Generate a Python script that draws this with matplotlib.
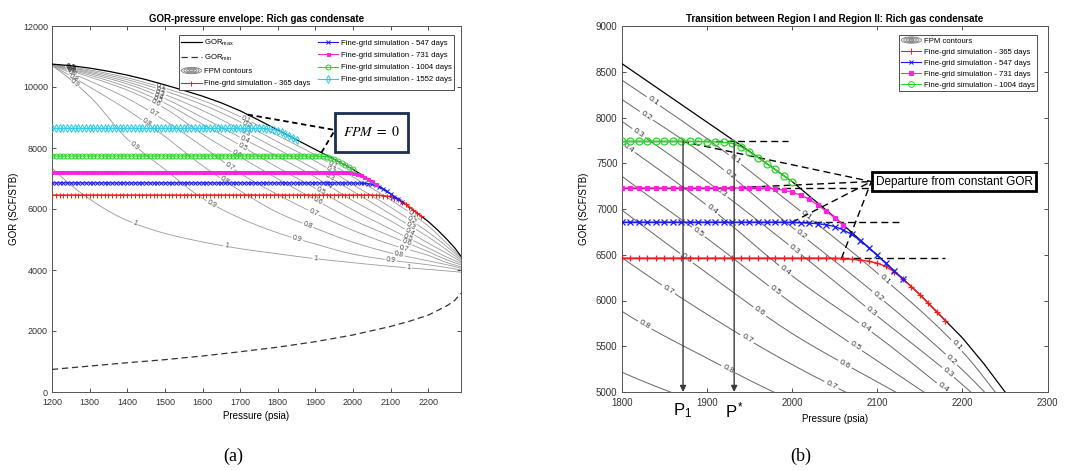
import numpy as np
import matplotlib
matplotlib.use("Agg")
import matplotlib.pyplot as plt
from matplotlib.legend_handler import HandlerBase
from matplotlib.patches import Ellipse, Rectangle, Patch
from matplotlib.lines import Line2D

plt.rcParams['font.family'] = ['Liberation Sans', 'DejaVu Sans']
plt.rcParams['mathtext.fontset'] = 'stix'

# ---------------- GOR envelope (psia, SCF/STB) ----------------
P_ENV = [1200, 1250, 1300, 1350, 1400, 1450, 1500, 1550, 1600, 1650, 1700, 1750,
         1800, 1850, 1900, 1950, 2000, 2050, 2100, 2150, 2200, 2225, 2250, 2270, 2287]
GOR_MAX = [10750, 10700, 10620, 10515, 10390, 10240, 10070, 9890, 9700, 9480, 9220, 8910,
           8590, 8270, 7950, 7630, 7300, 6910, 6495, 6065, 5590, 5310, 5000, 4730, 4450]
P_MIN = [1200, 1300, 1400, 1500, 1600, 1700, 1800, 1900, 2000, 2100, 2150, 2200, 2250, 2270, 2287]
GOR_MIN = [740, 850, 960, 1060, 1180, 1320, 1470, 1650, 1870, 2150, 2320, 2520, 2830, 3000, 3240]

# ---------------- FPM contour table: GOR of each FPM level at P_FPM ----------------
P_FPM = [1200, 1300, 1400, 1500, 1600, 1700, 1800, 1900, 2000, 2100, 2200, 2250, 2287]
FPM_LEVELS = [0.1, 0.2, 0.3, 0.4, 0.5, 0.6, 0.7, 0.8, 0.9, 1.0]
GOR_FPM_00 = [10750, 10620, 10390, 10070, 9700, 9220, 8590, 7950, 7300, 6495, 5590, 5000, 4450]
GOR_FPM_01 = [10745, 10560, 10300, 9960, 9560, 9030, 8410, 7770, 7050, 6300, 5440, 4860, 4420]
GOR_FPM_02 = [10740, 10520, 10240, 9870, 9420, 8860, 8200, 7570, 6800, 6055, 5240, 4760, 4370]
GOR_FPM_03 = [10735, 10480, 10170, 9750, 9230, 8610, 7960, 7300, 6580, 5830, 5080, 4650, 4320]
GOR_FPM_04 = [10730, 10440, 10100, 9620, 9000, 8350, 7720, 7040, 6270, 5610, 4880, 4540, 4270]
GOR_FPM_05 = [10725, 10390, 10000, 9470, 8780, 8090, 7360, 6680, 5970, 5340, 4720, 4420, 4220]
GOR_FPM_06 = [10720, 10330, 9900, 9300, 8450, 7710, 6990, 6300, 5640, 5110, 4600, 4330, 4170]
GOR_FPM_07 = [10715, 10200, 9630, 8900, 8050, 7170, 6470, 5850, 5300, 4840, 4480, 4240, 4110]
GOR_FPM_08 = [10710, 10000, 9250, 8380, 7420, 6600, 5884, 5370, 4910, 4560, 4300, 4170, 4060]
GOR_FPM_09 = [10705, 9700, 8300, 7300, 6350, 5700, 5218, 4850, 4520, 4320, 4170, 4080, 4000]
GOR_FPM_10 = [7333, 6320, 5620, 5200, 4920, 4700, 4530, 4370, 4240, 4120, 4020, 3970, 3930]

# ---------------- Fine-grid simulation results ----------------
P_START = 1200
P_STEP = 10
DAYS = [365, 547, 731, 1004, 1552]
PLATEAU_GOR = [6462, 6855, 7229, 7738, 8645]
TAIL_START_P = [2050, 2000, 1970, 1900, 1760]
TAIL_365 = [6460, 6457, 6451, 6442, 6428, 6408, 6372, 6312, 6235, 6150, 6062, 5968, 5873, 5778]
TAIL_547 = [6853, 6850, 6846, 6839, 6828, 6808, 6772, 6722, 6655, 6576, 6492, 6406, 6320, 6234]
TAIL_731 = [7226, 7219, 7206, 7185, 7152, 7105, 7045, 6975, 6905, 6825]
TAIL_1004 = [7736, 7733, 7727, 7716, 7680, 7625, 7562, 7497, 7432, 7366, 7300]
TAIL_1552 = [8640, 8632, 8618, 8597, 8568, 8515, 8455, 8395, 8332, 8268]

# Constant-GOR departure markers (365, 547, 731, 1004 days)
DEPART_P = [2058, 2000, 1925, 1871]
FLAT_END_P = [2180, 2127, 2090, 1995]
P_1 = 1872
P_STAR = 1932

SERIES_STYLE = {
    365: dict(color='#ff1a1a', marker='+', ms=1.0),
    547: dict(color='#1a1aff', marker='x', ms=0.85),
    731: dict(color='#ff22dd', marker='s', ms=0.6),
    1004: dict(color='#2ad42a', marker='o', mfc='none', ms=1.0),
    1552: dict(color='#22ccee', marker='d', mfc='none', ms=1.0),
}


def series(k, tail):
    p_flat = np.arange(P_START, TAIL_START_P[k], P_STEP)
    p_tail = TAIL_START_P[k] + P_STEP * np.arange(len(tail))
    p = np.concatenate([p_flat, p_tail])
    g = np.concatenate([np.full(len(p_flat), PLATEAU_GOR[k], dtype=float), tail])
    return p, g


SIM = {d: series(k, t) for k, (d, t) in enumerate(
    zip(DAYS, [TAIL_365, TAIL_547, TAIL_731, TAIL_1004, TAIL_1552]))}


def pchip(xk, yk, x):
    xk = np.asarray(xk, float)
    yk = np.asarray(yk, float)
    x = np.asarray(x, float)
    h = np.diff(xk)
    d = np.diff(yk) / h
    m = np.zeros_like(yk)
    for i in range(1, len(xk) - 1):
        if d[i - 1] * d[i] > 0:
            w1 = 2 * h[i] + h[i - 1]
            w2 = h[i] + 2 * h[i - 1]
            m[i] = (w1 + w2) / (w1 / d[i - 1] + w2 / d[i])

    def end_slope(h0, h1, d0, d1):
        s = ((2 * h0 + h1) * d0 - h0 * d1) / (h0 + h1)
        if np.sign(s) != np.sign(d0):
            s = 0.0
        elif np.sign(d0) != np.sign(d1) and abs(s) > abs(3 * d0):
            s = 3 * d0
        return s

    m[0] = end_slope(h[0], h[1], d[0], d[1])
    m[-1] = end_slope(h[-1], h[-2], d[-1], d[-2])
    idx = np.clip(np.searchsorted(xk, x) - 1, 0, len(xk) - 2)
    t = (x - xk[idx]) / h[idx]
    h00 = 2 * t**3 - 3 * t**2 + 1
    h10 = t**3 - 2 * t**2 + t
    h01 = -2 * t**3 + 3 * t**2
    h11 = t**3 - t**2
    return h00 * yk[idx] + h10 * h[idx] * m[idx] + h01 * yk[idx + 1] + h11 * h[idx] * m[idx + 1]


FPM_ROWS = [GOR_FPM_00, GOR_FPM_01, GOR_FPM_02, GOR_FPM_03, GOR_FPM_04, GOR_FPM_05,
            GOR_FPM_06, GOR_FPM_07, GOR_FPM_08, GOR_FPM_09, GOR_FPM_10]
ROW_LEVELS = [0.0] + FPM_LEVELS


def level_gor(lev, p):
    return float(pchip(P_FPM, FPM_ROWS[ROW_LEVELS.index(lev)], p))


def fpm_field(p_grid, g_grid):
    curves = np.array([pchip(P_FPM, r, p_grid) for r in FPM_ROWS])
    for k in range(1, len(curves)):
        curves[k] = np.minimum(curves[k], curves[k - 1] - 0.5)
    lev = np.array([-1.0] + ROW_LEVELS + [2.0])
    Z = np.empty((len(g_grid), len(p_grid)))
    for j in range(len(p_grid)):
        col = np.concatenate([[curves[0, j] + 4000.0], curves[:, j], [curves[-1, j] - 4000.0]])
        Z[:, j] = np.interp(g_grid, col[::-1], lev[::-1])
    return Z


def draw_fpm(ax, p_grid, g_grid, label_p, color, lw, fs, tcolor, spacing):
    Z = fpm_field(p_grid, g_grid)
    for lev in FPM_LEVELS:
        cs = ax.contour(p_grid, g_grid, Z, levels=[lev], colors=color, linewidths=lw, zorder=1)
        plist = label_p.get(lev, [])
        if plist:
            cs.clabel(manual=[(p, level_gor(lev, p)) for p in plist], inline=True,
                      inline_spacing=spacing, fmt='%g', fontsize=fs, colors=[tcolor])


class FpmIconHandler(HandlerBase):
    def create_artists(self, legend, orig_handle, xdescent, ydescent, width, height,
                       fontsize, trans):
        cx = -xdescent + width / 2.0
        cy = -ydescent + height / 2.0
        arts = []
        for s in (1.0, 0.75, 0.5, 0.25):
            arts.append(Ellipse((cx, cy), width * s, height * 1.15 * s, fill=False,
                                edgecolor='#7a7a7a', linewidth=0.6, transform=trans))
        return arts


def style_axes(ax, fs):
    ax.tick_params(direction='in', top=True, right=True, length=3, width=0.6,
                   labelsize=fs, colors='#333333')
    ax.tick_params(axis='x', pad=4)
    ax.tick_params(axis='y', pad=3)
    for s in ax.spines.values():
        s.set_color('#555555')
        s.set_linewidth(0.7)


def plot_series(ax, d, ms, mew, lw):
    p, g = SIM[d]
    st = SERIES_STYLE[d]
    ax.plot(p, g, color=st['color'], lw=lw, marker=st['marker'], ms=ms * st['ms'], mew=mew,
            mfc=st.get('mfc', st['color']), zorder=4)


def sim_handle(d, ms):
    st = SERIES_STYLE[d]
    return Line2D([], [], color=st['color'], lw=0.8, marker=st['marker'], ms=ms * st['ms'],
                  mew=0.7, mfc=st.get('mfc', st['color']))


fig = plt.figure(figsize=(10.65, 4.7), dpi=100)
W, H = 1065.0, 470.0
ax1 = fig.add_axes([52 / W, 78 / H, 409 / W, 366 / H])
ax2 = fig.add_axes([621.7 / W, 78 / H, 426 / W, 366 / H])

# ================= (a) GOR-pressure envelope =================
ax1.set_xlim(1200, 2287)
ax1.set_ylim(0, 12000)
ax1.set_xticks(np.arange(1200, 2201, 100))
ax1.set_yticks(np.arange(0, 12001, 2000))
style_axes(ax1, 6.5)

left_label_p = {
    0.1: [1250, 1490, 1716, 1946, 2158],
    0.2: [1250, 1490, 1718, 1942, 2156],
    0.3: [1251, 1488, 1716, 1937, 2154],
    0.4: [1252, 1485, 1712, 1933, 2150],
    0.5: [1253, 1482, 1707, 1915, 2146],
    0.6: [1254, 1476, 1690, 1906, 2142],
    0.7: [1256, 1469, 1672, 1895, 2136],
    0.8: [1258, 1451, 1659, 1880, 2122],
    0.9: [1261, 1420, 1624, 1852, 2100],
    1.0: [1420, 1663, 1900, 2148],
}
pL = np.linspace(1200, 2287, 700)
gL = np.linspace(3000, 11600, 1600)
draw_fpm(ax1, pL, gL, left_label_p, '#9a9a9a', 0.6, 5, '#444444', 1)

ax1.plot(P_ENV, GOR_MAX, color='black', lw=0.9, zorder=3)
ax1.plot(P_MIN, GOR_MIN, color='#333333', lw=0.9, dashes=(5, 3), zorder=3)

for d in [365, 547, 731, 1004, 1552]:
    plot_series(ax1, d, 3.6, 0.7, 0.8)

# FPM = 0 call-out
ax1.add_patch(Rectangle((1952, 7879), 194, 1278, facecolor='white', edgecolor='#1c2f52',
                        lw=2.0, zorder=6))
ax1.text(2049, 8518, r'$FPM\ =\ 0$', fontsize=10, ha='center', va='center', zorder=7)
for pc in (1720, 1916):
    ax1.plot([pc, 1952], [np.interp(pc, P_ENV, GOR_MAX), 8590], color='black', lw=1.3,
             dashes=(3, 2), zorder=5)

h_max = Line2D([], [], color='black', lw=0.9)
h_min = Line2D([], [], color='#333333', lw=0.9, dashes=(5, 3))
h_fpm = Patch()
handles = [h_max, h_min, h_fpm, sim_handle(365, 3.6), sim_handle(547, 3.6), sim_handle(731, 3.6),
           sim_handle(1004, 3.6), sim_handle(1552, 3.6)]
labels = [r'$\mathregular{GOR_{max}}$', r'$\mathregular{GOR_{min}}$', 'FPM contours',
          'Fine-grid simulation - 365 days', 'Fine-grid simulation - 547 days',
          'Fine-grid simulation - 731 days', 'Fine-grid simulation - 1004 days',
          'Fine-grid simulation - 1552 days']
leg1 = ax1.legend(handles, labels, ncol=2, loc='upper right', bbox_to_anchor=(0.993, 0.985),
                  fontsize=5.6, handlelength=2.6, labelspacing=0.6, columnspacing=1.0,
                  handletextpad=0.3, borderpad=0.35, fancybox=False, framealpha=1,
                  edgecolor='#333333', handler_map={h_fpm: FpmIconHandler()})
leg1.get_frame().set_linewidth(0.6)
leg1.set_zorder(8)

ax1.set_title('GOR-pressure envelope: Rich gas condensate', fontsize=7, fontweight='bold', pad=3)
ax1.set_xlabel('Pressure (psia)', fontsize=7, labelpad=3)
ax1.set_ylabel('GOR (SCF/STB)', fontsize=7, labelpad=3)

# ================= (b) Region I / Region II transition =================
ax2.set_xlim(1800, 2300)
ax2.set_ylim(5000, 9000)
ax2.set_xticks(np.arange(1800, 2301, 100))
ax2.set_yticks(np.arange(5000, 9001, 500))
style_axes(ax2, 7)

right_label_p = {
    0.1: [1837, 1933, 2017, 2109, 2193],
    0.2: [1829, 1927, 2011, 2101, 2187],
    0.3: [1820, 1917, 2003, 2093, 2183],
    0.4: [1808, 1906, 1992, 2086, 2177],
    0.5: [1890, 1980, 2074],
    0.6: [1876, 1962, 2062],
    0.7: [1855, 1947, 2046],
    0.8: [1827, 1925],
}
pR = np.linspace(1795, 2287, 600)
gR = np.linspace(4800, 9200, 1200)
draw_fpm(ax2, pR, gR, right_label_p, '#666666', 0.7, 6, '#333333', 2)

ax2.plot(P_ENV, GOR_MAX, color='black', lw=0.9, zorder=3)

# constant-GOR reference lines and departure pointers
box_xy = (2093, 7300)
for k in range(4):
    g0 = PLATEAU_GOR[k]
    ax2.plot([1800, DEPART_P[k]], [g0, g0], color='black', lw=1.0, zorder=3)
    ax2.plot([DEPART_P[k], FLAT_END_P[k]], [g0, g0], color='black', lw=1.0, dashes=(5, 3),
             zorder=3)
    ax2.plot([DEPART_P[k], box_xy[0]], [g0, box_xy[1]], color='black', lw=1.0, dashes=(5, 3),
             zorder=3)

for d in [365, 547, 731, 1004]:
    plot_series(ax2, d, 5.0, 0.9, 1.0)

for px in (P_1, P_STAR):
    ax2.annotate('', xy=(px, 5000), xytext=(px, PLATEAU_GOR[3]),
                 arrowprops=dict(arrowstyle='-|>', color='#3a3a3a', lw=1.0,
                                 mutation_scale=9, shrinkA=0, shrinkB=0), zorder=5)
ax2.text(P_1, -0.05, r'$\mathregular{P_1}$', transform=ax2.get_xaxis_transform(),
         fontsize=12, ha='center', va='center')
ax2.text(P_STAR, -0.05, r'$\mathregular{P^*}$', transform=ax2.get_xaxis_transform(),
         fontsize=12, ha='center', va='center')

ax2.text(box_xy[0] + 5, box_xy[1], 'Departure from constant GOR', fontsize=8.5, ha='left',
         va='center', zorder=7,
         bbox=dict(boxstyle='square,pad=0.3', facecolor='white', edgecolor='black', lw=2.0))

h_fpm2 = Patch()
handles2 = [h_fpm2, sim_handle(365, 4.2), sim_handle(547, 4.2), sim_handle(731, 4.2),
            sim_handle(1004, 4.2)]
labels2 = ['FPM contours', 'Fine-grid simulation - 365 days', 'Fine-grid simulation - 547 days',
           'Fine-grid simulation - 731 days', 'Fine-grid simulation - 1004 days']
leg2 = ax2.legend(handles2, labels2, loc='upper right', bbox_to_anchor=(0.984, 0.986),
                  fontsize=5.6, handlelength=2.6, labelspacing=0.45, handletextpad=0.3,
                  borderpad=0.3, fancybox=False, framealpha=1, edgecolor='#333333',
                  handler_map={h_fpm2: FpmIconHandler()})
leg2.get_frame().set_linewidth(0.6)
leg2.set_zorder(8)

ax2.set_title('Transition between Region I and Region II: Rich gas condensate', fontsize=7,
              fontweight='bold', pad=3)
ax2.set_xlabel('Pressure (psia)', fontsize=7, labelpad=5)
ax2.set_ylabel('GOR (SCF/STB)', fontsize=7, labelpad=5)

fig.text(233 / W, 1 - 456 / H, '(a)', fontsize=13, ha='center', va='center',
         family=['Liberation Serif', 'DejaVu Serif'])
fig.text(801 / W, 1 - 456 / H, '(b)', fontsize=13, ha='center', va='center',
         family=['Liberation Serif', 'DejaVu Serif'])

fig.savefig('out.png', dpi=100)
